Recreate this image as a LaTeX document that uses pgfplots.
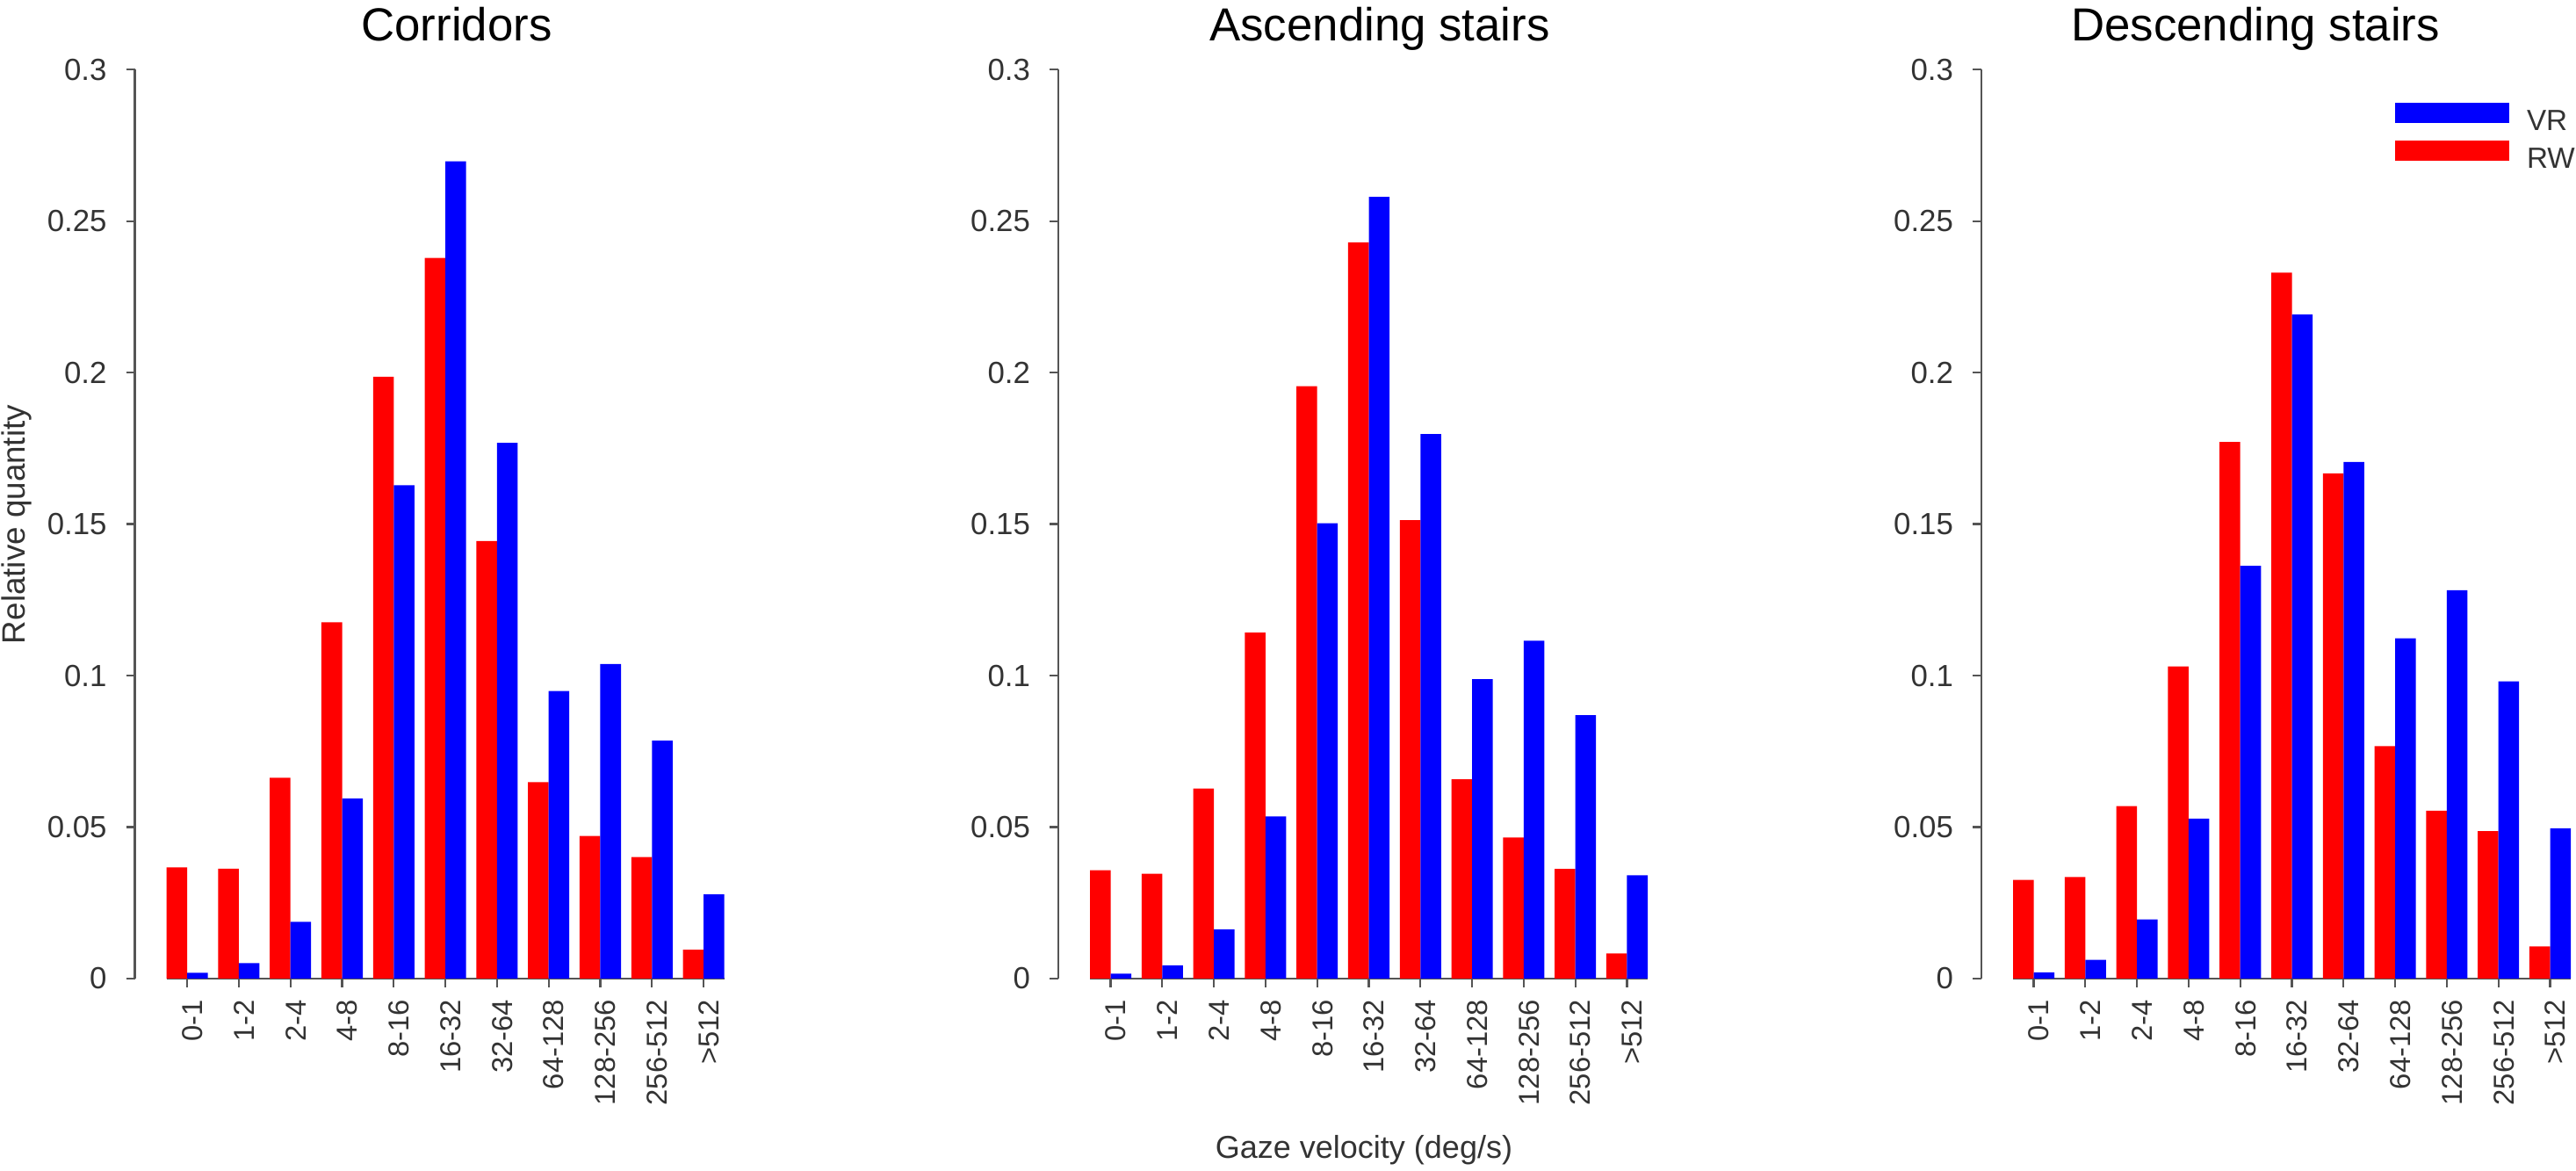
\documentclass[border=0pt]{standalone}
\usepackage{fontspec}
\setmainfont{Liberation Sans}
\usepackage{pgfplots}
\usepackage{pgfplotstable}
\pgfplotsset{compat=1.18}

\definecolor{axgray}{HTML}{555555}
\definecolor{txtgray}{HTML}{333333}

% columns: x RW VR
\pgfplotstableread{
x RW VR
0 0.0367 0.0019
1 0.0363 0.0051
2 0.0663 0.0187
3 0.1176 0.0595
4 0.1986 0.1628
5 0.2378 0.2697
6 0.1444 0.1768
7 0.0648 0.0949
8 0.0471 0.1038
9 0.0401 0.0785
10 0.0095 0.0278
}\corridors
\pgfplotstableread{
x RW VR
0 0.0358 0.0016
1 0.0346 0.0044
2 0.0627 0.0163
3 0.1142 0.0535
4 0.1955 0.1503
5 0.2430 0.2580
6 0.1513 0.1797
7 0.0658 0.0988
8 0.0466 0.1115
9 0.0362 0.0869
10 0.0083 0.0341
}\ascending
\pgfplotstableread{
x RW VR
0 0.0326 0.0021
1 0.0335 0.0062
2 0.0569 0.0195
3 0.1030 0.0528
4 0.1771 0.1362
5 0.2330 0.2192
6 0.1667 0.1705
7 0.0767 0.1123
8 0.0554 0.1282
9 0.0487 0.0981
10 0.0106 0.0496
}\descending

\pgfplotsset{
  panel/.style={
    scale only axis,
    width=158.75bp, height=258.7bp,
    xmin=-0.4, xmax=10.4, ymin=0, ymax=0.3,
    enlargelimits=false,
    axis x line*=bottom, axis y line*=left,
    axis y line shift=9bp,
    axis line style={axgray, line width=0.55bp},
    every tick/.style={axgray, line width=0.55bp},
    tick align=outside,
    major tick length=2.5bp,
    ytick={0,0.05,0.1,0.15,0.2,0.25,0.3},
    yticklabels={0,0.05,0.1,0.15,0.2,0.25,0.3},
    xtick={0,1,2,3,4,5,6,7,8,9,10},
    xticklabels={0-1,1-2,2-4,4-8,8-16,16-32,32-64,64-128,128-256,256-512,>512},
    x tick label style={rotate=90, anchor=east, yshift=-1.5bp,
      font=\fontsize{8.2bp}{9bp}\selectfont, text=txtgray},
    y tick label style={xshift=-2bp, font=\fontsize{8.7bp}{10bp}\selectfont, text=txtgray},
    ybar, bar width=0.4,
    clip=false,
  },
  rw/.style={fill={rgb,255:red,255;green,0;blue,0}, draw=none, bar shift=-0.2},
  vr/.style={fill={rgb,255:red,0;green,0;blue,255}, draw=none, bar shift=0.2},
}

\begin{document}
\begin{tikzpicture}
\useasboundingbox (0,0) rectangle (733.25bp,333.25bp);

\begin{axis}[panel, at={(47.4bp,54.75bp)}, anchor=south west]
  \addplot[rw] table[x=x, y=RW] {\corridors};
  \addplot[vr] table[x=x, y=VR] {\corridors};
\end{axis}

\begin{axis}[panel, at={(310.25bp,54.75bp)}, anchor=south west]
  \addplot[rw] table[x=x, y=RW] {\ascending};
  \addplot[vr] table[x=x, y=VR] {\ascending};
\end{axis}

\begin{axis}[panel, at={(573bp,54.75bp)}, anchor=south west,
  legend style={draw=none, fill=none, inner sep=0pt, outer sep=0pt,
    at={(0.685,0.9635)}, anchor=north west,
    font=\fontsize{8.3bp}{10bp}\selectfont, text=txtgray,
    row sep=1.25bp,
    nodes={inner sep=0pt}},
  legend cell align=left,
  reverse legend,
  legend image code/.code={\fill[#1] (0bp,0.1bp) rectangle (32.5bp,5.85bp);},
  /tikz/every odd column/.append style={column sep=5bp},
]
  \addplot[rw] table[x=x, y=RW] {\descending};
  \addlegendentry{RW}
  \addplot[vr] table[x=x, y=VR] {\descending};
  \addlegendentry{VR}
\end{axis}

\node[font=\fontsize{13.2bp}{15bp}\selectfont, anchor=base] at (130bp,321.5bp) {Corridors};
\node[font=\fontsize{13.2bp}{15bp}\selectfont, anchor=base] at (392.75bp,321.5bp) {Ascending stairs};
\node[font=\fontsize{13.2bp}{15bp}\selectfont, anchor=base] at (642bp,321.5bp) {Descending stairs};
\node[font=\fontsize{9.2bp}{11bp}\selectfont, text=txtgray, rotate=90] at (4.75bp,184bp) {Relative quantity};
\node[font=\fontsize{9bp}{11bp}\selectfont, text=txtgray] at (388.25bp,6bp) {Gaze velocity (deg/s)};
\end{tikzpicture}
\end{document}
